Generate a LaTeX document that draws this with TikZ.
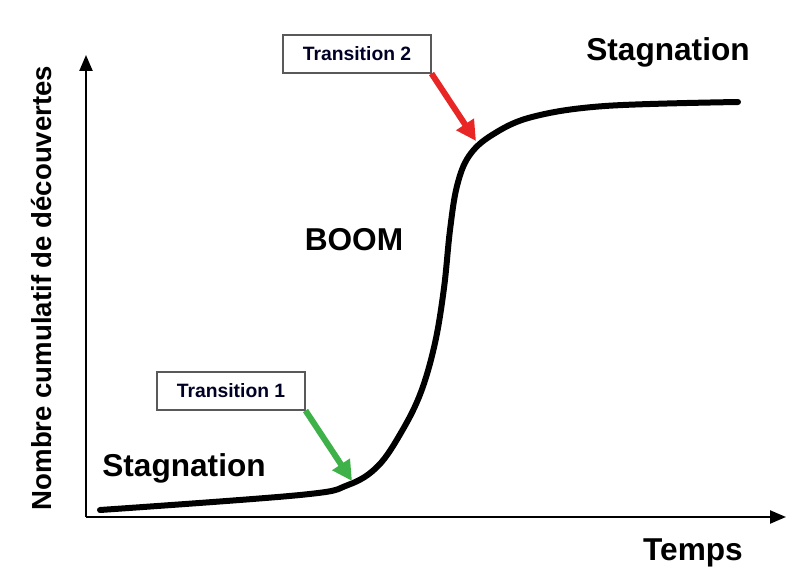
\documentclass[tikz,border=0pt]{standalone}
\usepackage{fontspec}
\setmainfont{Liberation Sans}
\usetikzlibrary{arrows.meta}
\begin{document}
\begin{tikzpicture}[x=0.02cm, y=-0.02cm, thick,
  main_label/.style={font=\bfseries\fontsize{18}{20}\selectfont},
  trans_box/.style={draw=black!65, line width=0.6pt, fill=white, minimum width=2.96cm, minimum height=0.76cm, font=\bfseries\fontsize{11}{13}\selectfont, text=black!85!blue},
  axis_line/.style={line width=1.3pt, -{Triangle[length=0.32cm, width=0.26cm]}},
  trans_arrow/.style={line width=0.12cm, -{Triangle[length=0.4cm, width=0.4cm]}}]

  \useasboundingbox (0,0) rectangle (796,575);

  % axes
  \coordinate (O) at (86,517);
  \coordinate (ytip) at (86,55);
  \coordinate (xtip) at (786,517);
  \draw[axis_line] (O) -- (ytip);
  \draw[axis_line] (O) -- (xtip);

  \node[font=\bfseries\fontsize{15.7}{17}\selectfont, rotate=90] (ylab) at (42,288) {Nombre cumulatif de découvertes};
  \node[main_label] (temps) at (693,553) {Temps};

  % courbe
  \draw[line width=0.12cm, line cap=round] plot[smooth, tension=0.6] coordinates {
    (100,510) (300,495) (348,485) (378,466) (402,431) (421,392)
    (435,343) (444,288) (450,230) (457,186) (469,156) (492,135)
    (532,117) (605,106) (738,102)};

  \node[main_label] (stag1) at (184,468) {Stagnation};
  \node[main_label] (stag2) at (668,52) {Stagnation};
  \node[main_label] (boom) at (354,240) {BOOM};

  \node[trans_box] (t1) at (231,391) {Transition 1};
  \node[trans_box] (t2) at (357,54) {Transition 2};

  \coordinate (c1) at (352,481);
  \coordinate (c2) at (476,141);
  \draw[trans_arrow, color={rgb,255:red,62;green,178;blue,72}] (t1.south east) -- (c1);
  \draw[trans_arrow, color={rgb,255:red,232;green,38;blue,38}] (t2.south east) -- (c2);
\end{tikzpicture}
\end{document}
